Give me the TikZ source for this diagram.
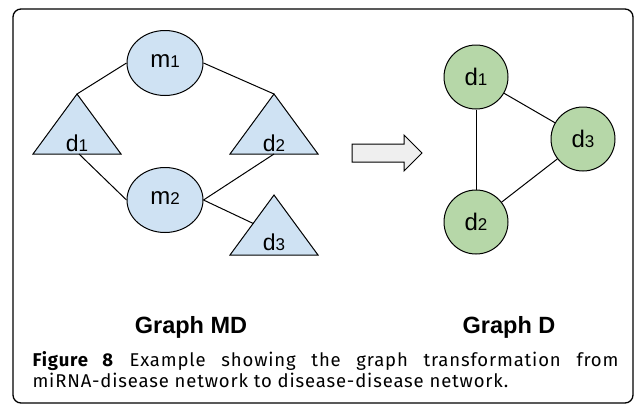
\documentclass[tikz,border=0pt]{standalone}
\usepackage{fontspec}
\setmainfont{Liberation Sans}
\newfontfamily\capfont[LetterSpace=4.6]{Fira Sans}
\usetikzlibrary{shapes.geometric}
\definecolor{mdblue}{HTML}{CFE2F3}
\definecolor{dgreen}{HTML}{B6D7A8}
\definecolor{arrowgray}{HTML}{EFEFEF}
\newcommand{\ix}[1]{{\fontsize{17}{17}\selectfont #1}}
\begin{document}
\begin{tikzpicture}[x=1pt,y=-1pt,line width=1pt,
  mnode/.style={ellipse,draw,fill=mdblue,minimum width=76pt,minimum height=65pt,inner sep=0pt,font=\fontsize{24}{24}\selectfont},
  dnode/.style={circle,draw,fill=dgreen,minimum size=64pt,inner sep=0pt,font=\fontsize{24}{24}\selectfont},
  tri/.style={draw,fill=mdblue,line join=miter},
  tlabel/.style={anchor=base,inner sep=0pt,font=\fontsize{23}{23}\selectfont},
  gtitle/.style={anchor=base,inner sep=0pt,font=\bfseries\fontsize{23.5}{23.5}\selectfont}]
\useasboundingbox (0,0) rectangle (637,405);
\draw[line width=1.3pt,rounded corners=8pt] (13,9) rectangle (633,403);
% graph MD
\node[mnode,text depth=3pt] (m1) at (165,63) {m\ix1};
\node[mnode,text depth=3pt] (m2) at (165,200) {m\ix2};
\filldraw[tri] (33,154) -- (77,94) coordinate (t1top) -- (121,154) -- cycle;
\filldraw[tri] (230,154) -- (274,94) coordinate (t2top) -- (318,154) -- cycle;
\filldraw[tri] (230,255) -- (274,195) coordinate (t3top) -- (318,255) -- cycle;
\coordinate (t1base) at (79,154);
\coordinate (t2base) at (274,154);
\coordinate (t3side) at (253.5,223.6);
\node[tlabel] (a1) at (77,151) {d\ix1};
\node[tlabel] (a2) at (274,151) {d\ix2};
\node[tlabel] (a3) at (274,250) {d\ix3};
\draw (m1.west) -- (t1top);
\draw (m1.east) -- (t2top);
\draw (t1base) -- (m2.west);
\draw (m2.east) -- (t2base);
\draw (m2.east) -- (t3side);
% arrow
\filldraw[fill=arrowgray,line join=miter] (352,144) -- (404,144) -- (404,135) -- (422,153)
  -- (404,171) -- (404,162) -- (352,162) -- cycle;
% graph D
\node[dnode] (d1) at (476,77) {d\ix1};
\node[dnode] (d2) at (476,222) {d\ix2};
\node[dnode] (d3) at (583,139) {d\ix3};
\draw (d1) -- (d2);
\draw (d1) -- (d3);
\draw (d2) -- (d3);
% titles and caption
\node[gtitle] (gmd) at (191,333) {Graph MD};
\node[gtitle] (gd) at (509,333) {Graph D};
\node[anchor=north west,inner sep=0pt,text width=586pt,align=justify,
  font=\capfont\fontsize{18.5}{21}\selectfont] (cap) at (32,351)
  {\textbf{Figure 8} Example showing the graph transformation from\linebreak
   miRNA-disease network to disease-disease network.};
\end{tikzpicture}
\end{document}
